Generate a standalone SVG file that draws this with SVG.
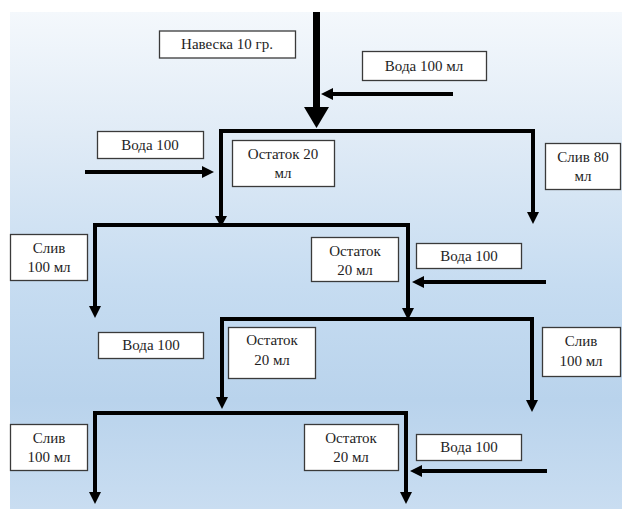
<svg xmlns="http://www.w3.org/2000/svg" width="622" height="509" viewBox="0 0 622 509">
<defs>
<linearGradient id="bg" x1="0" y1="0" x2="0" y2="1">
<stop offset="0" stop-color="#f4f8fc"/>
<stop offset="0.25" stop-color="#e0ebf6"/>
<stop offset="0.55" stop-color="#c6dcf1"/>
<stop offset="0.78" stop-color="#b9d3ec"/>
<stop offset="1" stop-color="#c9ddf1"/>
</linearGradient>
<marker id="ah" markerWidth="3" markerHeight="3" refX="0.5" refY="1.5" orient="auto" markerUnits="strokeWidth">
<path d="M0,0 L3,1.5 L0,3 Z" fill="#000"/>
</marker>
</defs>
<style>
.box{fill:#fff;stroke:#3a3a3a;stroke-width:1.3}
.t{font-family:'Liberation Serif','Times New Roman',serif;font-size:15px;fill:#1e1e1e;text-anchor:middle}
.ln{fill:none;stroke:#000;stroke-width:4;stroke-linejoin:miter}
.ar{fill:none;stroke:#000;stroke-width:4}
</style>
<rect x="10" y="12" width="612" height="497" fill="url(#bg)"/>
<g id="connectors">
<line x1="316.5" y1="12" x2="316.5" y2="108" stroke="#000" stroke-width="7"/>
<path d="M304,107 L329,107 L316.5,128 Z" fill="#000"/>
<line class="ar" x1="453" y1="94" x2="331" y2="94" marker-end="url(#ah)"/>
<path class="ln" d="M221,217 V131 H533 V213"/>
<path d="M527,212 L539,212 L533,224 Z" fill="#000"/>
<path d="M215,216 L227,216 L221,227 Z" fill="#000"/>
<line class="ar" x1="85" y1="172" x2="204" y2="172" marker-end="url(#ah)"/>
<path class="ln" d="M95,306 V225 H408 V308"/>
<path d="M89,306 L101,306 L95,318 Z" fill="#000"/>
<path d="M402,308 L414,308 L408,320 Z" fill="#000"/>
<line class="ar" x1="546" y1="282" x2="422" y2="282" marker-end="url(#ah)"/>
<path class="ln" d="M222,398 V319 H532 V400"/>
<path d="M216,397 L228,397 L222,409 Z" fill="#000"/>
<path d="M526,400 L538,400 L532,412 Z" fill="#000"/>
<path class="ln" d="M95,493 V413 H406 V493"/>
<path d="M89,492 L101,492 L95,504 Z" fill="#000"/>
<path d="M400,492 L412,492 L406,504 Z" fill="#000"/>
<line class="ar" x1="547" y1="471" x2="420" y2="471" marker-end="url(#ah)"/>
</g>
<g id="n1"><rect class="box" x="159.5" y="31" width="136" height="27"/><text class="t" x="227" y="49">Навеска 10 гр.</text></g>
<g id="n2"><rect class="box" x="362.5" y="51.5" width="124" height="29"/><text class="t" x="424" y="71">Вода 100 мл</text></g>
<g id="n3"><rect class="box" x="97.5" y="131.5" width="106" height="27"/><text class="t" x="150" y="150">Вода 100</text></g>
<g id="n4"><rect class="box" x="232.5" y="140.5" width="102" height="46"/><text class="t" x="283" y="159">Остаток 20</text><text class="t" x="283" y="178">мл</text></g>
<g id="n5"><rect class="box" x="545.5" y="143.5" width="75" height="46"/><text class="t" x="583" y="162">Слив 80</text><text class="t" x="583" y="181">мл</text></g>
<g id="n6"><rect class="box" x="10.5" y="234.5" width="77" height="46"/><text class="t" x="49" y="253">Слив</text><text class="t" x="49" y="272">100 мл</text></g>
<g id="n7"><rect class="box" x="311.5" y="237.5" width="87" height="44"/><text class="t" x="355" y="256">Остаток</text><text class="t" x="355" y="275">20 мл</text></g>
<g id="n8"><rect class="box" x="416.5" y="243.5" width="105" height="25"/><text class="t" x="469" y="261">Вода 100</text></g>
<g id="n9"><rect class="box" x="98.5" y="332.5" width="105" height="26"/><text class="t" x="151" y="350">Вода 100</text></g>
<g id="n10"><rect class="box" x="228.5" y="327.5" width="87" height="51"/><text class="t" x="272" y="345">Остаток</text><text class="t" x="272" y="365">20 мл</text></g>
<g id="n11"><rect class="box" x="542.5" y="327.5" width="78" height="49"/><text class="t" x="581" y="346">Слив</text><text class="t" x="581" y="366">100 мл</text></g>
<g id="n12"><rect class="box" x="10.5" y="424.5" width="77" height="46"/><text class="t" x="49" y="443">Слив</text><text class="t" x="49" y="462">100 мл</text></g>
<g id="n13"><rect class="box" x="304.5" y="424.5" width="94" height="46"/><text class="t" x="351" y="443">Остаток</text><text class="t" x="351" y="462">20 мл</text></g>
<g id="n14"><rect class="box" x="416.5" y="434.5" width="105" height="26"/><text class="t" x="469" y="452">Вода 100</text></g>
</svg>
